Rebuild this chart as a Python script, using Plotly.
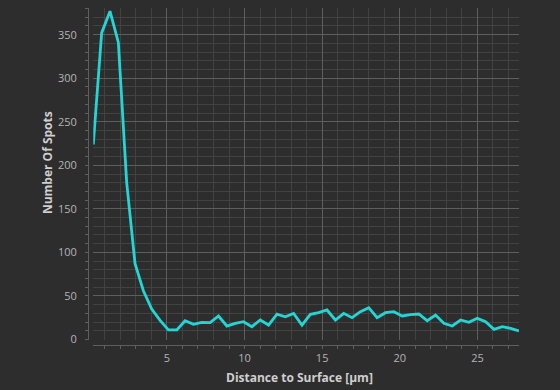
import plotly.graph_objects as go

# Data
x_start = 0.26
x_step = 0.5376
spots = [224, 352, 377, 341, 180, 87, 56, 35, 22, 11,
         11, 21.6, 17.4, 19.7, 19.3, 27, 15.5, 18.6, 20.4, 14.7,
         22.4, 16.6, 29, 26, 30, 16.6, 28.9, 30.8, 33.9, 22.4,
         30, 25, 31.9, 36.5, 25, 30.8, 31.9, 27, 28.5, 29.3,
         21.6, 28.1, 18.6, 15.5, 22.4, 19.7, 24.3, 20.4, 11.7, 14.7,
         12.8, 9.8]
distance = [round(x_start + i * x_step, 4) for i in range(len(spots))]

x_ticks = [5, 10, 15, 20, 25]
y_ticks = [0, 50, 100, 150, 200, 250, 300, 350]

BG = "#2e2d2d"
LINE = "#22d6d6"
MAJOR = "#5e5e5e"
MINOR = "#434242"
TXT = "#b4b4b4"
FONT = "Open Sans"

fig = go.Figure()
fig.add_trace(go.Scatter(x=distance, y=spots, mode="lines",
                         line=dict(color=LINE, width=2.8), hoverinfo="skip"))

fig.update_layout(
    width=560, height=390,
    margin=dict(l=88, r=41, t=8, b=45),
    paper_bgcolor=BG, plot_bgcolor=BG,
    showlegend=False,
    font=dict(family=FONT, color=TXT, size=11),
    xaxis=dict(
        domain=[0.0123, 1], anchor="free", position=0,
        range=[distance[0], distance[-1]],
        tickvals=x_ticks, ticktext=[str(v) for v in x_ticks],
        showgrid=True, gridcolor=MAJOR, gridwidth=1,
        showline=True, linecolor="#5e5e5e", linewidth=1,
        ticks="outside", ticklen=3, tickcolor="#5e5e5e",
        tickfont=dict(size=11, color=TXT),
        zeroline=False,
        minor=dict(dtick=1, tick0=0, showgrid=True, gridcolor=MINOR, gridwidth=1,
                   ticks="outside", ticklen=3, tickcolor="#5e5e5e"),
    ),
    yaxis=dict(
        domain=[0.0163, 1], anchor="free", position=0,
        range=[0, 380.6],
        tickvals=y_ticks, ticktext=[str(v) for v in y_ticks],
        showgrid=True, gridcolor=MAJOR, gridwidth=1,
        showline=True, linecolor="#5e5e5e", linewidth=1,
        ticks="outside", ticklen=3, tickcolor="#5e5e5e",
        tickfont=dict(size=11, color=TXT),
        ticklabelstandoff=6,
        zeroline=False,
        minor=dict(dtick=10, tick0=0, showgrid=True, gridcolor=MINOR, gridwidth=1,
                   ticks="outside", ticklen=3, tickcolor="#5e5e5e"),
    ),
)

fig.add_annotation(text="<b>Number Of Spots</b>", xref="paper", yref="paper",
                   x=-0.095, y=0.54, textangle=-90, showarrow=False,
                   font=dict(family=FONT, size=12, color="#cfcfcf"),
                   xanchor="center", yanchor="middle")
fig.add_annotation(text="<b>Distance to Surface [µm]</b>", xref="paper", yref="paper",
                   x=0.49, y=-0.096, showarrow=False,
                   font=dict(family=FONT, size=12, color="#cfcfcf"),
                   xanchor="center", yanchor="middle")

fig.write_html(
    "out.html",
    config={"displayModeBar": False},
    post_script="document.body.style.margin='0';document.body.style.background='%s';" % BG,
)
